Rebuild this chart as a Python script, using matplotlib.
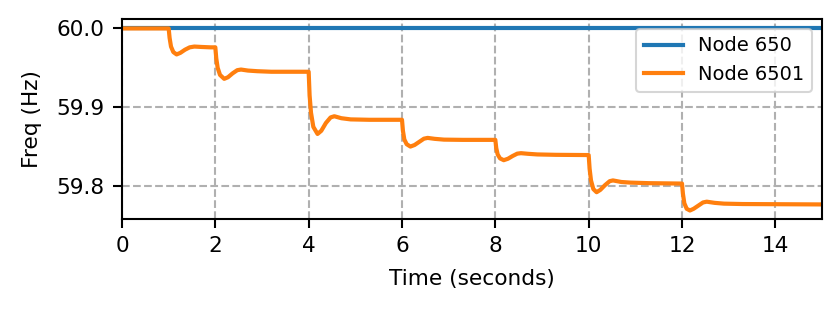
import matplotlib
matplotlib.use("Agg")
import matplotlib.pyplot as plt
from matplotlib.ticker import FormatStrFormatter

# Node 650: constant frequency
t_650 = [0.0, 15.0]
f_650 = [60.0, 60.0]

# Node 6501: values
t_6501 = [
    0.00, 1.00,
    1.02, 1.05, 1.10, 1.17, 1.25, 1.35, 1.45, 1.55, 1.70, 1.90, 2.00,
    2.02, 2.05, 2.10, 2.19, 2.27, 2.37, 2.47, 2.55, 2.70, 2.90, 3.20, 4.00,
    4.02, 4.05, 4.10, 4.19, 4.27, 4.37, 4.47, 4.55, 4.70, 4.90, 5.30, 6.00,
    6.02, 6.05, 6.10, 6.18, 6.27, 6.37, 6.47, 6.55, 6.70, 6.90, 7.30, 8.00,
    8.02, 8.05, 8.10, 8.18, 8.27, 8.37, 8.47, 8.55, 8.70, 8.90, 9.30, 10.00,
    10.02, 10.05, 10.10, 10.17, 10.25, 10.35, 10.45, 10.52, 10.70, 10.90, 11.30, 12.00,
    12.02, 12.05, 12.10, 12.17, 12.25, 12.35, 12.45, 12.53, 12.70, 12.90, 13.30, 15.00,
]
f_6501 = [
    60.000, 60.000,
    59.988, 59.977, 59.970, 59.967, 59.969, 59.973, 59.976, 59.977, 59.9765, 59.976, 59.976,
    59.962, 59.950, 59.941, 59.936, 59.938, 59.943, 59.947, 59.9478, 59.9465, 59.9457, 59.945, 59.945,
    59.915, 59.893, 59.875, 59.866, 59.870, 59.880, 59.887, 59.8885, 59.8860, 59.8845, 59.884, 59.884,
    59.870, 59.859, 59.853, 59.850, 59.852, 59.856, 59.860, 59.861, 59.8598, 59.8588, 59.8585, 59.8585,
    59.848, 59.840, 59.835, 59.8327, 59.8345, 59.838, 59.841, 59.8416, 59.8408, 59.8400, 59.8395, 59.8392,
    59.822, 59.807, 59.796, 59.792, 59.795, 59.801, 59.806, 59.807, 59.805, 59.8042, 59.8035, 59.803,
    59.790, 59.778, 59.771, 59.7688, 59.771, 59.775, 59.779, 59.780, 59.7785, 59.7775, 59.777, 59.7765,
]

labels = ["Node 650", "Node 6501"]
x_ticks = [0, 2, 4, 6, 8, 10, 12, 14]
y_ticks = [59.8, 59.9, 60.0]

plt.rcParams['font.family'] = ['DejaVu Sans']
plt.rcParams['font.size'] = 10.4

fig = plt.figure(figsize=(839 / 150, 314 / 150), dpi=150)
ax = fig.add_axes([122 / 839, 1 - 219 / 314, 700 / 839, 200 / 314])

ax.plot(t_650, f_650, color='#1f77b4', linewidth=2.0, label=labels[0])
ax.plot(t_6501, f_6501, color='#ff7f0e', linewidth=2.0, label=labels[1])

ax.set_xlim(0, 15)
ax.set_ylim(59.758, 60.012)
ax.set_xticks(x_ticks)
ax.set_yticks(y_ticks)
ax.yaxis.set_major_formatter(FormatStrFormatter('%.1f'))
ax.tick_params(length=4.2, width=1.0, pad=4.2)
for s in ax.spines.values():
    s.set_linewidth(1.0)
ax.grid(True, linestyle='--', color='#b0b0b0', linewidth=1)
ax.set_xlabel("Time (seconds)", labelpad=6)
ax.set_ylabel("Freq (Hz)", labelpad=7)
ax.legend(loc='upper right', fontsize=9.3)

fig.savefig("out.png", dpi=150)
